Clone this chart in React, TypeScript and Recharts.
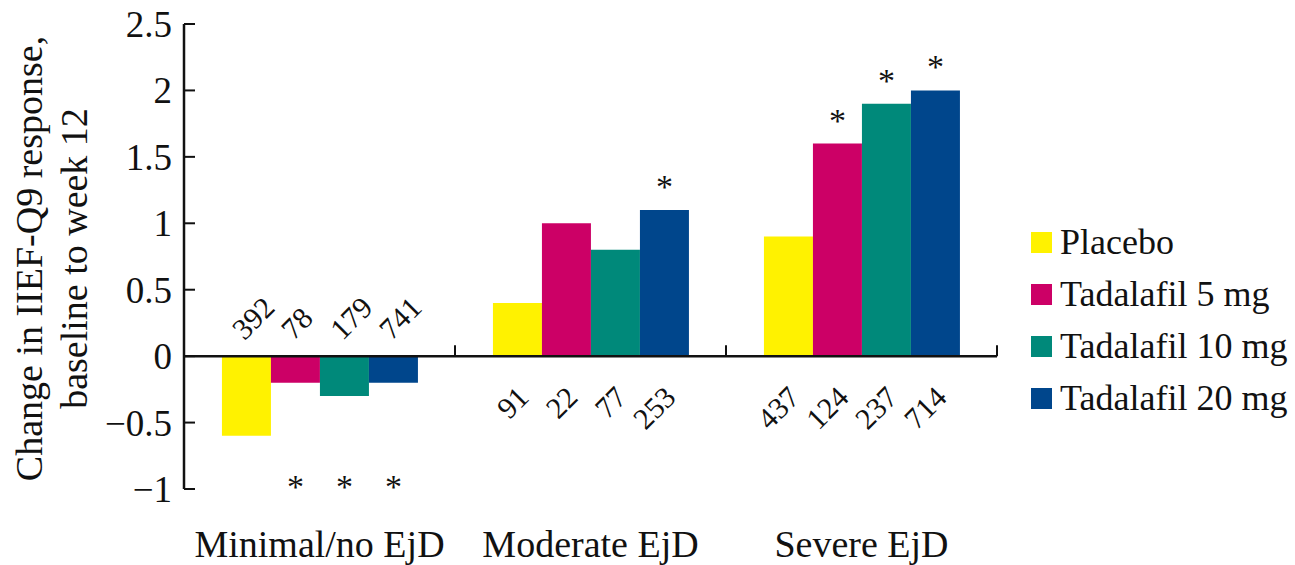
import { Bar, BarChart, LabelList, Legend, ReferenceLine, XAxis, YAxis } from "recharts";

const FONT = "'Liberation Serif', 'Times New Roman', serif";

const categories = ["Minimal/no EjD", "Moderate EjD", "Severe EjD"];
const placebo = [-0.6, 0.4, 0.9];
const tada5 = [-0.2, 1.0, 1.6];
const tada10 = [-0.3, 0.8, 1.9];
const tada20 = [-0.2, 1.1, 2.0];

// patient counts written under / over each bar
const nPlacebo = [392, 91, 437];
const nTada5 = [78, 22, 124];
const nTada10 = [179, 77, 237];
const nTada20 = [741, 253, 714];

// asterisk = significant vs placebo
const sigPlacebo = [false, false, false];
const sigTada5 = [true, false, true];
const sigTada10 = [true, false, true];
const sigTada20 = [true, true, true];

const yTicks = [-1, -0.5, 0, 0.5, 1, 1.5, 2, 2.5];

const series = [
  { key: "placebo", name: "Placebo", color: "#FFF200", values: placebo, n: nPlacebo, sig: sigPlacebo },
  { key: "tada5", name: "Tadalafil 5 mg", color: "#CC0066", values: tada5, n: nTada5, sig: sigTada5 },
  { key: "tada10", name: "Tadalafil 10 mg", color: "#00897A", values: tada10, n: nTada10, sig: sigTada10 },
  { key: "tada20", name: "Tadalafil 20 mg", color: "#00468C", values: tada20, n: nTada20, sig: sigTada20 },
];

const data = categories.map((name, i) => {
  const row: Record<string, string | number> = { name };
  series.forEach((s) => {
    row[s.key] = s.values[i];
  });
  return row;
});

function barBox(props: any) {
  const vb = props.viewBox ?? props;
  return { x: Number(vb.x), y: Number(vb.y), width: Number(vb.width), height: Number(vb.height) };
}

function makeLabel(values: number[], n: number[], sig: boolean[]) {
  return (props: any) => {
    const i = props.index;
    const v = values[i];
    const { x, y, width, height } = barBox(props);
    const cx = x + width / 2;
    const top = Math.min(y, y + height);
    const bottom = Math.max(y, y + height);
    const zero = v >= 0 ? bottom : top;
    const ppu = Math.abs(height / v);
    const parts = [];
    if (v < 0) {
      const sx = cx - 2;
      const sy = zero - 15;
      parts.push(
        <text key="n" x={sx} y={sy} textAnchor="start" fontSize={30} fontFamily={FONT} fill="#111" transform={`rotate(-45 ${sx} ${sy})`}>
          {n[i]}
        </text>
      );
      if (sig[i]) {
        const sy2 = zero + ppu * 0.95 + 16;
        parts.push(
          <text key="s" x={cx} y={sy2} textAnchor="middle" fontSize={34} fontFamily={FONT} fill="#111">*</text>
        );
      }
    } else {
      const ex = cx + 13;
      const ey = zero + 43;
      parts.push(
        <text key="n" x={ex} y={ey} textAnchor="end" fontSize={30} fontFamily={FONT} fill="#111" transform={`rotate(-45 ${ex} ${ey})`}>
          {n[i]}
        </text>
      );
      if (sig[i]) {
        parts.push(
          <text key="s" x={cx} y={top - 12} textAnchor="middle" fontSize={34} fontFamily={FONT} fill="#111">*</text>
        );
      }
    }
    return <g>{parts}</g>;
  };
}

const YTick = (props: any) => {
  const { x, y, payload } = props;
  const v = payload.value as number;
  const label = v < 0 ? "\u2212" + Math.abs(v) : String(v);
  return (
    <g>
      <line x1={x + 12} x2={x + 23} y1={y} y2={y} stroke="#111" strokeWidth={2} />
      <text x={x} y={y} dy="0.35em" textAnchor="end" fontSize={37} fontFamily={FONT} fill="#111">
        {label}
      </text>
    </g>
  );
};

const XTick = (props: any) => {
  const { x, y, payload } = props;
  return (
    <text x={x} y={y + 68} textAnchor="middle" fontSize={38} fontFamily={FONT} fill="#111">
      {payload.value}
    </text>
  );
};

const ZeroAxis = (props: any) => {
  const { x1, x2, y1 } = props;
  const step = (x2 - x1) / categories.length;
  return (
    <g>
      <line x1={x1} x2={x2} y1={y1} y2={y1} stroke="#111" strokeWidth={2.5} />
      {categories.map((c, i) => {
        const tx = x1 + step * (i + 1);
        return <line key={c} x1={tx} x2={tx} y1={y1} y2={y1 - 11} stroke="#111" strokeWidth={2} />;
      })}
    </g>
  );
};

const YTitle = (props: any) => {
  const vb = props.viewBox;
  const cy = vb.y + vb.height / 2 + 2;
  return (
    <g fontFamily={FONT} fontSize={38} fill="#111" textAnchor="middle">
      <text x={42} y={cy} transform={`rotate(-90 42 ${cy})`}>Change in IIEF-Q9 response,</text>
      <text x={87} y={cy} transform={`rotate(-90 87 ${cy})`}>baseline to week 12</text>
    </g>
  );
};

const LegendBox = () => (
  <div style={{ fontFamily: FONT }}>
    {series.map((s) => (
      <div key={s.key} style={{ display: "flex", alignItems: "center", height: 52 }}>
        <span style={{ width: 21, height: 21, background: s.color, marginRight: 8, display: "inline-block" }} />
        <span style={{ fontSize: 36, color: "#111", lineHeight: "52px" }}>{s.name}</span>
      </div>
    ))}
  </div>
);

export default function App() {
  return (
    <div style={{ position: "absolute", left: 0, top: 0, background: "#fff" }}>
      <BarChart
        width={1295}
        height={565}
        data={data}
        margin={{ top: 24, right: 298, bottom: 0, left: 0 }}
        barCategoryGap="14%"
        barGap={0}
        style={{ fontFamily: FONT }}
      >
        <XAxis
          dataKey="name"
          axisLine={false}
          tickLine={false}
          tickSize={0}
          tickMargin={0}
          height={76}
          interval={0}
          tick={<XTick />}
        />
        <YAxis
          domain={[-1, 2.5]}
          ticks={yTicks}
          width={184}
          tickSize={0}
          tickMargin={12}
          axisLine={{ stroke: "#111", strokeWidth: 2.5 }}
          tickLine={false}
          tick={<YTick />}
          interval={0}
          label={{ content: <YTitle /> }}
        />
        <ReferenceLine y={0} shape={<ZeroAxis />} />
        {series.map((s) => (
          <Bar key={s.key} dataKey={s.key} name={s.name} fill={s.color} isAnimationActive={false}>
            <LabelList dataKey={s.key} content={makeLabel(s.values, s.n, s.sig)} />
          </Bar>
        ))}
        <Legend
          layout="vertical"
          align="center"
          verticalAlign="middle"
          wrapperStyle={{ left: 1031, top: 216, width: 264 }}
          content={<LegendBox />}
        />
      </BarChart>
    </div>
  );
}
